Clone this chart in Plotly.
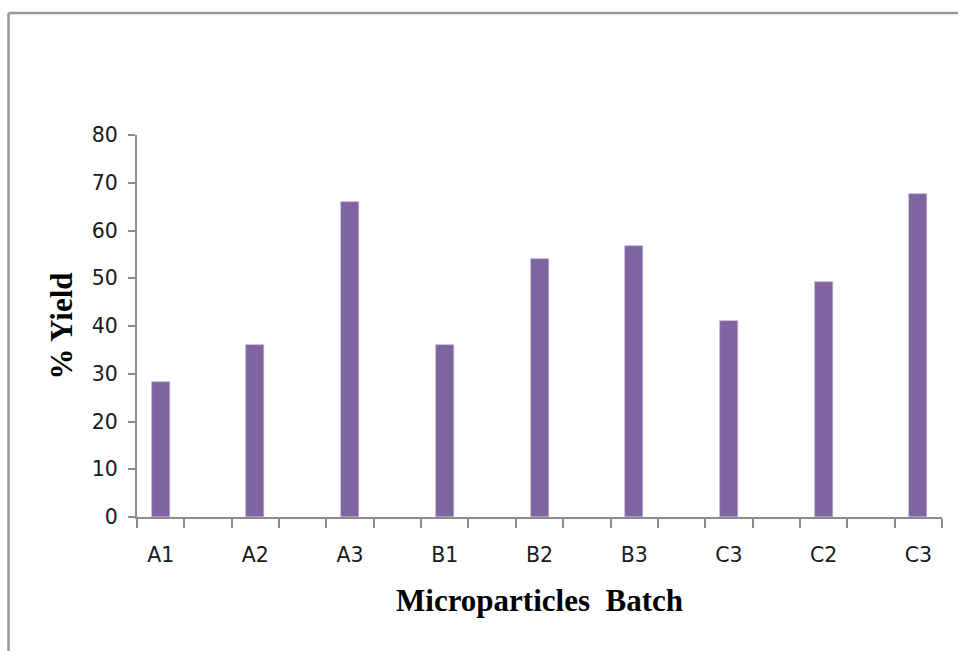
import plotly.graph_objects as go

# Batch labels and percentage yield per batch
batches = ["A1", "A2", "A3", "B1", "B2", "B3", "C3", "C2", "C3"]
yield_pct = [28.3, 36.0, 65.9, 36.0, 54.0, 56.7, 41.0, 49.3, 67.7]
y_ticks = [0, 10, 20, 30, 40, 50, 60, 70, 80]

# Each batch sits on an even slot, with an empty slot between neighbours
slots = [2 * i for i in range(len(batches))]
n_slots = 2 * len(batches) - 1

axis_grey = "#8c8c8c"
tick_font = dict(family="DejaVu Sans", size=20.5, color="#1a1a1a")
title_font = dict(family="Liberation Serif", size=31, color="#000000")

fig = go.Figure(
    go.Bar(
        x=slots,
        y=yield_pct,
        width=0.38,
        marker=dict(color="#8064A2", line=dict(color="#b8a8cf", width=0.6)),
        hovertext=batches,
    )
)

fig.update_layout(
    width=958,
    height=651,
    margin=dict(l=137, r=16, t=135, b=134),
    paper_bgcolor="white",
    plot_bgcolor="white",
    showlegend=False,
    bargap=0,
)

fig.update_xaxes(
    range=[-0.5, n_slots - 0.5],
    tickmode="array",
    tickvals=slots,
    ticktext=batches,
    ticks="",
    ticklabelstandoff=18,
    tickfont=tick_font,
    showgrid=False,
    zeroline=False,
    showline=True,
    linecolor=axis_grey,
    linewidth=2,
    minor=dict(
        ticks="outside",
        tick0=-0.5,
        dtick=1,
        ticklen=9,
        tickwidth=2,
        tickcolor=axis_grey,
        showgrid=False,
    ),
    title=dict(
        text="<b>Microparticles  Batch</b>",
        font=title_font,
        standoff=24,
    ),
)

fig.update_yaxes(
    range=[0, 80],
    tickmode="array",
    tickvals=y_ticks,
    ticks="outside",
    ticklen=7,
    tickwidth=2,
    tickcolor=axis_grey,
    ticklabelstandoff=6,
    tickfont=tick_font,
    showgrid=False,
    zeroline=False,
    showline=True,
    linecolor=axis_grey,
    linewidth=2,
    title=dict(text="<b>% Yield</b>", font=title_font, standoff=10),
)

# Chart-area frame: left and top edges
left_x = (8.5 - 137) / 805
top_y = (517 - 13) / 382
fig.add_shape(type="line", xref="paper", yref="paper",
              x0=left_x, x1=left_x, y0=-0.5, y1=top_y,
              line=dict(color="#999999", width=2.5))
fig.add_shape(type="line", xref="paper", yref="paper",
              x0=left_x, x1=1.2, y0=top_y, y1=top_y,
              line=dict(color="#999999", width=2.5))

fig.write_html("out.html")
